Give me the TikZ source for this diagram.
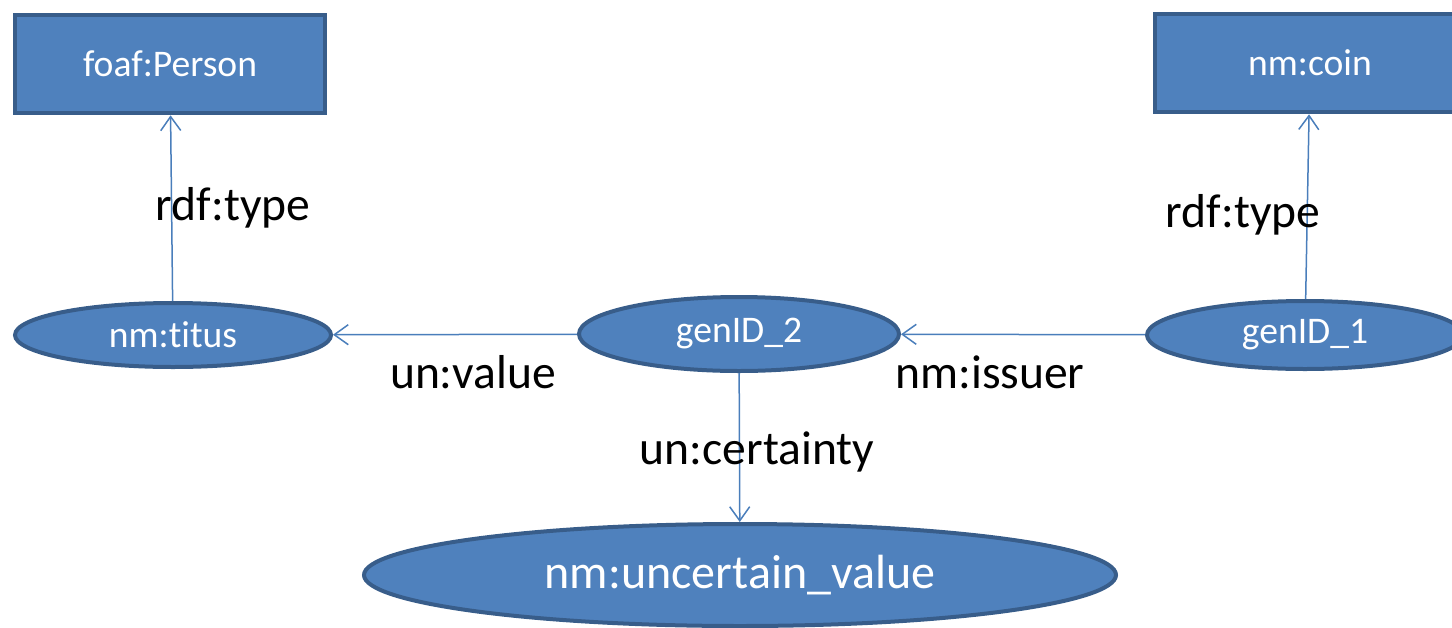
\documentclass[tikz,border=0pt]{standalone}
\usepackage{fontspec}
\setmainfont{Carlito}[Ligatures={NoCommon}]
\usetikzlibrary{shapes.geometric,arrows.meta}
\definecolor{nodefill}{HTML}{4F81BD}
\definecolor{nodeline}{HTML}{385D8A}
\definecolor{arrowcol}{HTML}{4A7EBB}
\begin{document}
\begin{tikzpicture}[x=0.5pt,y=-0.5pt,
    classbox/.style={rectangle,draw=nodeline,fill=nodefill,line width=2.3pt,text=white,inner sep=0pt,font=\fontsize{18.8}{21}\selectfont},
    resnode/.style={ellipse,draw=nodeline,fill=nodefill,line width=2pt,text=white,inner sep=0pt,font=\fontsize{18.8}{21}\selectfont},
    prop/.style={draw=arrowcol,line width=0.75pt,-{Straight Barb[length=7pt,width=10pt]}},
    proplabel/.style={text=black,font=\fontsize{23.8}{27}\selectfont}]
      \useasboundingbox (0,0) rectangle (1452,627);
      \node[classbox,minimum width=155pt,minimum height=49pt] (person) at (170,64) {foaf:Person};
      \node[classbox,minimum width=155pt,minimum height=49pt] (coin) at (1310,63) {nm:coin};
      \node[resnode,minimum width=158pt,minimum height=32pt] (titus) at (173,335) {nm:titus};
      \node[resnode,minimum width=160pt,minimum height=37pt] (gen2) at (739,334) {genID\_2};
      \node[resnode,minimum width=158pt,minimum height=34pt] (gen1) at (1305,335) {genID\_1};
      \node[resnode,minimum width=376pt,minimum height=51pt,font=\fontsize{24}{27}\selectfont] (uncert) at (740,575) {nm:uncertain\_value};
      \draw[prop] (titus) -- (person);
      \draw[prop] (gen1) -- (coin);
      \draw[prop] (gen2) -- (titus);
      \draw[prop] (gen1) -- (gen2);
      \draw[prop] (gen2) -- (uncert);
      \node[proplabel] (lbtype1) at (233,208) {rdf:type};
      \node[proplabel] (lbtype2) at (1243,215) {rdf:type};
      \node[proplabel] (lbvalue) at (473,372) {un:value};
      \node[proplabel] (lbissuer) at (990,372) {nm:issuer};
      \node[proplabel] (lbcert) at (757,452) {un:certainty};
\end{tikzpicture}
\end{document}
